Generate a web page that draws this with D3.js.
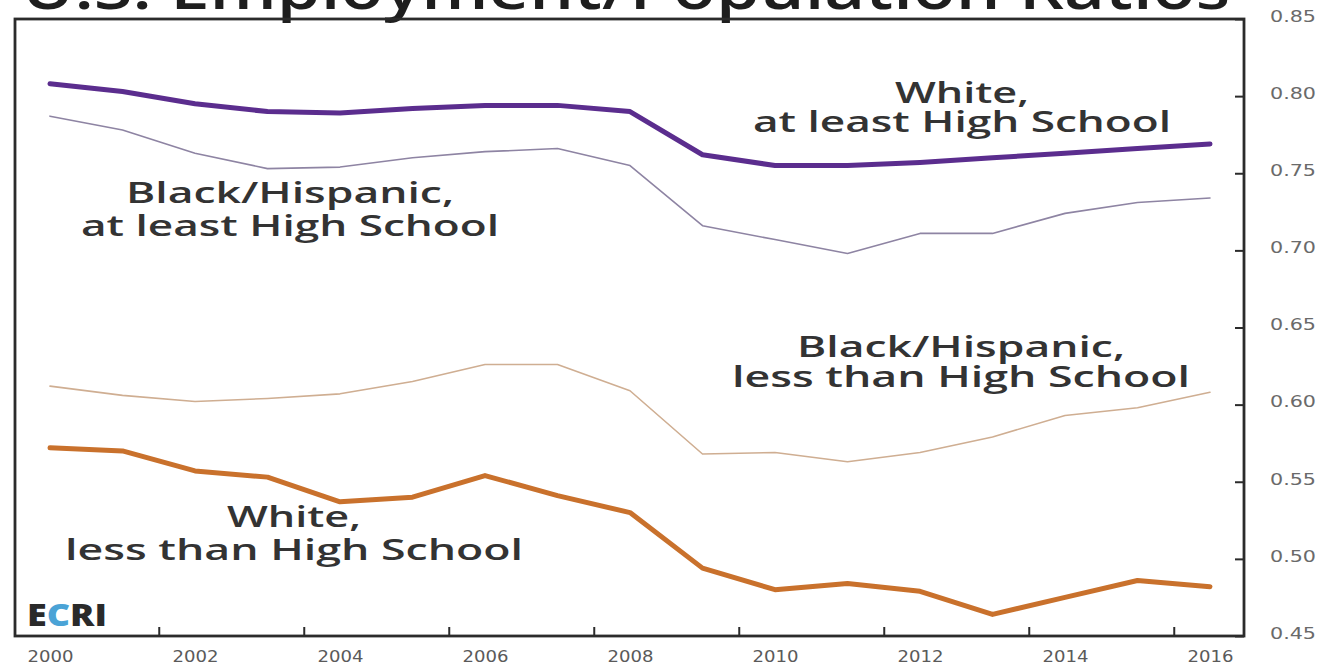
<!DOCTYPE html>
<html>
<head>
<meta charset="utf-8">
<script src="https://cdn.jsdelivr.net/npm/d3@7"></script>
<style>
  html, body { margin: 0; padding: 0; background: #fff; }
  svg { display: block; }
</style>
</head>
<body>
<svg id="chart" width="1328" height="666"></svg>
<script>
// Employment/population ratios, annual, 2000-2016
const years = [2000, 2001, 2002, 2003, 2004, 2005, 2006, 2007, 2008,
               2009, 2010, 2011, 2012, 2013, 2014, 2015, 2016];
const whiteAtLeastHS = [0.808, 0.803, 0.795, 0.790, 0.789, 0.792, 0.794, 0.794, 0.790,
                        0.762, 0.755, 0.755, 0.757, 0.760, 0.763, 0.766, 0.769];
const blackHispAtLeastHS = [0.787, 0.778, 0.763, 0.753, 0.754, 0.760, 0.764, 0.766, 0.755,
                            0.716, 0.707, 0.698, 0.711, 0.711, 0.724, 0.731, 0.734];
const blackHispLessHS = [0.612, 0.606, 0.602, 0.604, 0.607, 0.615, 0.626, 0.626, 0.609,
                         0.568, 0.569, 0.563, 0.569, 0.579, 0.593, 0.598, 0.608];
const whiteLessHS = [0.572, 0.570, 0.557, 0.553, 0.537, 0.540, 0.554, 0.541, 0.530,
                     0.494, 0.480, 0.484, 0.479, 0.464, 0.475, 0.486, 0.482];

const yTicks = [0.45, 0.50, 0.55, 0.60, 0.65, 0.70, 0.75, 0.80, 0.85];
const xLabelYears = [2000, 2002, 2004, 2006, 2008, 2010, 2012, 2014, 2016];
const xTickYears = [2001.5, 2003.5, 2005.5, 2007.5, 2009.5, 2011.5, 2013.5, 2015.5];

const titleText = "U.S. Employment/Population Ratios";

const series = [
  { name: "White, at least High School", values: whiteAtLeastHS, color: "#5b2d8e", width: 5 },
  { name: "Black/Hispanic, at least High School", values: blackHispAtLeastHS, color: "#8e84a3", width: 1.6 },
  { name: "Black/Hispanic, less than High School", values: blackHispLessHS, color: "#cfae92", width: 1.6 },
  { name: "White, less than High School", values: whiteLessHS, color: "#c9712c", width: 5 }
];

// two-line series annotations: centre x, baselines, and set widths
const labels = [
  { lines: ["White,", "at least High School"], cx: 962, y: [103, 132] },
  { lines: ["Black/Hispanic,", "at least High School"], cx: 290, y: [203, 236] },
  { lines: ["Black/Hispanic,", "less than High School"], cx: 961, y: [357, 387] },
  { lines: ["White,", "less than High School"], cx: 294, y: [527, 560] }
];
const lineWidths = {
  "White,": 134,
  "Black/Hispanic,": 328,
  "at least High School": 418,
  "less than High School": 458
};

const svg = d3.select("#chart");
const frame = { left: 15, top: 19, right: 1244, bottom: 636 };

const x = d3.scaleLinear().domain([2000, 2016]).range([50, 1210]);
const y = d3.scaleLinear().domain([0.45, 0.85]).range([frame.bottom, frame.top]);

const axisFont = "'DejaVu Sans', Verdana, sans-serif";
const labelFont = "'Open Sans', 'Noto Sans', sans-serif";

// Title, partly above the top edge
svg.append("text")
  .attr("x", 22)
  .attr("y", 9)
  .attr("textLength", 1208)
  .attr("lengthAdjust", "spacingAndGlyphs")
  .style("font-family", labelFont)
  .style("font-weight", 600)
  .style("font-size", "58px")
  .style("fill", "#1e1e1e")
  .text(titleText);

// Series lines
const line = d3.line()
  .x((d, i) => x(years[i]))
  .y(d => y(d));

svg.append("g")
  .selectAll("path")
  .data(series)
  .join("path")
  .attr("fill", "none")
  .attr("stroke", d => d.color)
  .attr("stroke-width", d => d.width)
  .attr("stroke-linejoin", "round")
  .attr("stroke-linecap", "round")
  .attr("d", d => line(d.values));

// Frame
svg.append("rect")
  .attr("x", frame.left)
  .attr("y", frame.top)
  .attr("width", frame.right - frame.left)
  .attr("height", frame.bottom - frame.top)
  .attr("fill", "none")
  .attr("stroke", "#2b2b2b")
  .attr("stroke-width", 2.8);

// Right axis: inward ticks, labels outside
const yAxis = svg.append("g")
  .attr("transform", `translate(${frame.right},0)`)
  .call(d3.axisRight(y).tickValues(yTicks).tickFormat(d3.format(".2f"))
    .tickSizeInner(-9).tickSizeOuter(0).tickPadding(26));
yAxis.select(".domain").remove();
yAxis.selectAll("line").attr("stroke", "#2b2b2b").attr("stroke-width", 2);
yAxis.selectAll("text")
  .attr("dy", "0.15em")
  .attr("textLength", 46)
  .attr("lengthAdjust", "spacingAndGlyphs")
  .style("font-family", axisFont)
  .style("font-size", "15px")
  .style("fill", "#6a6a6a");

// Bottom axis: tick marks between year labels
const xTickAxis = svg.append("g")
  .attr("transform", `translate(0,${frame.bottom})`)
  .call(d3.axisBottom(x).tickValues(xTickYears).tickFormat("")
    .tickSizeInner(-9).tickSizeOuter(0));
xTickAxis.select(".domain").remove();
xTickAxis.selectAll("line").attr("stroke", "#2b2b2b").attr("stroke-width", 2);

const xLabelAxis = svg.append("g")
  .attr("transform", `translate(0,${frame.bottom})`)
  .call(d3.axisBottom(x).tickValues(xLabelYears).tickFormat(d3.format("d"))
    .tickSize(0).tickPadding(15));
xLabelAxis.select(".domain").remove();
xLabelAxis.selectAll("text")
  .attr("textLength", 46)
  .attr("lengthAdjust", "spacingAndGlyphs")
  .style("font-family", axisFont)
  .style("font-size", "15px")
  .style("fill", "#5a5a5a");

// Series annotations, one text element per label with a tspan per line
const annot = svg.append("g")
  .style("font-family", labelFont)
  .style("font-weight", 600)
  .style("font-size", "28px")
  .style("fill", "#333");

labels.forEach(l => {
  const t = annot.append("text").attr("text-anchor", "middle");
  l.lines.forEach((s, i) => {
    t.append("tspan")
      .attr("x", l.cx)
      .attr("y", l.y[i])
      .attr("textLength", lineWidths[s])
      .attr("lengthAdjust", "spacingAndGlyphs")
      .text(s);
  });
});

// ECRI mark
const logo = svg.append("text")
  .attr("x", 27)
  .attr("y", 626)
  .attr("textLength", 80)
  .attr("lengthAdjust", "spacingAndGlyphs")
  .style("font-family", labelFont)
  .style("font-weight", 800)
  .style("font-size", "30px");
logo.append("tspan").style("fill", "#2a2a2a").text("E");
logo.append("tspan").style("fill", "#4aa3d6").text("C");
logo.append("tspan").style("fill", "#2a2a2a").text("RI");
</script>
</body>
</html>
